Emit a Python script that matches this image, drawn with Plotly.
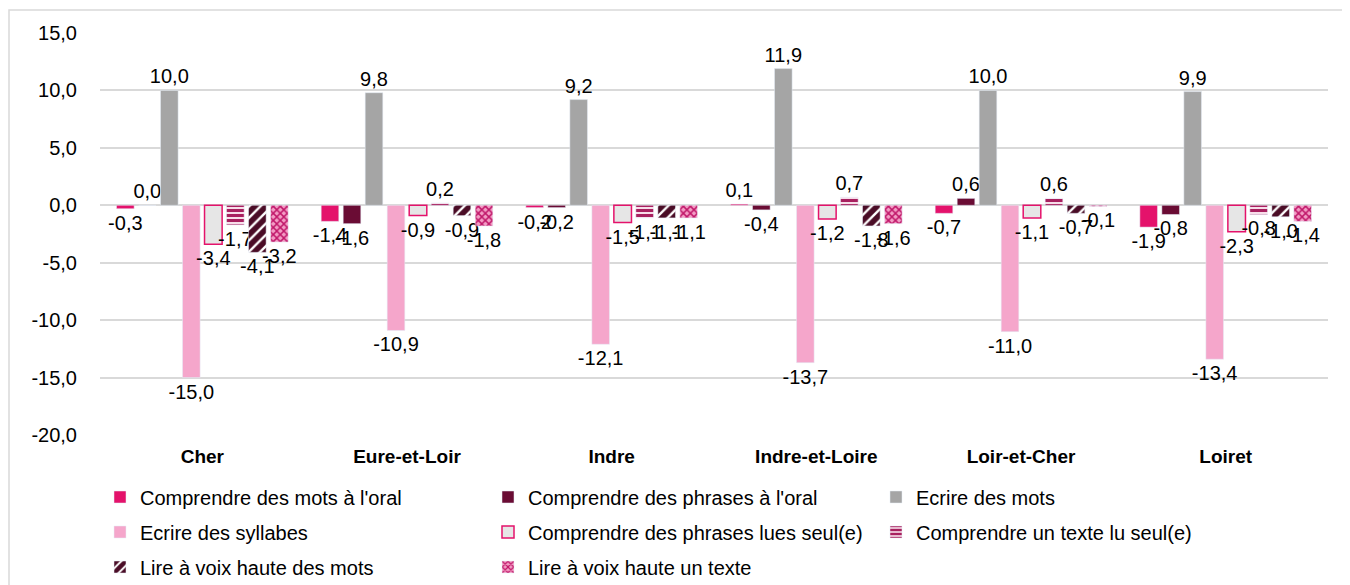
import plotly.graph_objects as go

categories = ["Cher", "Eure-et-Loir", "Indre", "Indre-et-Loire", "Loir-et-Cher", "Loiret"]

series_names = [
    "Comprendre des mots à l'oral",
    "Comprendre des phrases à l'oral",
    "Ecrire des mots",
    "Ecrire des syllabes",
    "Comprendre des phrases lues seul(e)",
    "Comprendre un texte lu seul(e)",
    "Lire à voix haute des mots",
    "Lire à voix haute un texte",
]

mots_oral = [-0.3, -1.4, -0.2, 0.1, -0.7, -1.9]
phrases_oral = [0.0, -1.6, -0.2, -0.4, 0.6, -0.8]
ecrire_mots = [10.0, 9.8, 9.2, 11.9, 10.0, 9.9]
ecrire_syllabes = [-15.0, -10.9, -12.1, -13.7, -11.0, -13.4]
phrases_lues = [-3.4, -0.9, -1.5, -1.2, -1.1, -2.3]
texte_lu = [-1.7, 0.2, -1.1, 0.7, 0.6, -0.8]
voix_mots = [-4.1, -0.9, -1.1, -1.8, -0.7, -1.0]
voix_texte = [-3.2, -1.8, -1.1, -1.6, -0.1, -1.4]

series_values = [mots_oral, phrases_oral, ecrire_mots, ecrire_syllabes,
                 phrases_lues, texte_lu, voix_mots, voix_texte]

tick_vals = [15, 10, 5, 0, -5, -10, -15, -20]
tick_text = ["15,0", "10,0", "5,0", "0,0", "-5,0", "-10,0", "-15,0", "-20,0"]

styles = [
    dict(color="#E4126B"),
    dict(color="#6A0C34"),
    dict(color="#A5A5A5"),
    dict(color="#F5A6CB"),
    dict(color="#E6E6E6", line=dict(color="#E4126B", width=1.5)),
    dict(color="#FFFFFF", pattern=dict(shape="-", fgcolor="#A8205F", bgcolor="#F7DDE9",
                                       size=5, solidity=0.6, fgopacity=1)),
    dict(color="#FFFFFF", pattern=dict(shape="/", fgcolor="#4A0C26", bgcolor="#FFFFFF",
                                       size=8, solidity=0.7, fgopacity=1)),
    dict(color="#FFFFFF", pattern=dict(shape="x", fgcolor="#C0176A", bgcolor="#F39CC4",
                                       size=5, solidity=0.5, fgopacity=1)),
]

legend_of = ["legend", "legend", "legend", "legend2", "legend2", "legend2", "legend3", "legend3"]

font_family = "Liberation Sans, Arial, sans-serif"
FS = 20

W, H = 1342, 577
L, R, T, B = 92, 22, 25, 150
PW = W - L - R
PH = H - T - B

fig = go.Figure()
for name, vals, st, lg in zip(series_names, series_values, styles, legend_of):
    fig.add_trace(go.Bar(
        name=name,
        x=categories,
        y=vals,
        marker=st,
        legend=lg,
        texttemplate="%{y:.1f}",
        textposition="outside",
        constraintext="none",
        cliponaxis=False,
        textfont=dict(family=font_family, size=FS, color="#000000"),
        hoverinfo="skip",
    ))

def make_legend(ypix):
    return dict(
        orientation="h",
        x=0,
        xanchor="left",
        xref="paper",
        y=1 - ypix / H,
        yref="container",
        yanchor="middle",
        entrywidth=343,
        entrywidthmode="pixels",
        itemwidth=30,
        font=dict(family=font_family, size=FS, color="#000000"),
        traceorder="normal",
        bgcolor="rgba(0,0,0,0)",
    )

fig.update_layout(
    width=W,
    height=H,
    separators=", ",
    barmode="group",
    bargap=0.14,
    bargroupgap=0.2,
    plot_bgcolor="white",
    paper_bgcolor="white",
    font=dict(family=font_family, size=FS, color="#000000"),
    margin=dict(l=L, r=R, t=T, b=B, autoexpand=False),
    showlegend=True,
    legend=make_legend(489),
    legend2=make_legend(524),
    legend3=make_legend(559),
    xaxis=dict(
        showgrid=False,
        showline=False,
        ticks="",
        ticklabelstandoff=8,
        tickfont=dict(family=font_family, size=FS - 1, color="#000000", weight="bold"),
    ),
    yaxis=dict(
        range=[-20, 15],
        tickvals=tick_vals,
        ticktext=tick_text,
        showgrid=True,
        gridcolor="#D9D9D9",
        gridwidth=1.5,
        zeroline=True,
        zerolinecolor="#D9D9D9",
        zerolinewidth=1.5,
        showline=False,
        ticks="",
        ticklabelstandoff=22,
        tickfont=dict(family=font_family, size=FS, color="#000000"),
    ),
    shapes=[dict(
        type="rect", xref="paper", yref="paper",
        x0=(1 - L) / PW, x1=(W + 20 - L) / PW,
        y0=(PH - (H + 20 - T)) / PH, y1=(PH - (2 - T)) / PH,
        line=dict(color="#D9D9D9", width=1.5),
        fillcolor="rgba(0,0,0,0)",
        layer="below",
    )],
)

fig.write_html("out.html")
